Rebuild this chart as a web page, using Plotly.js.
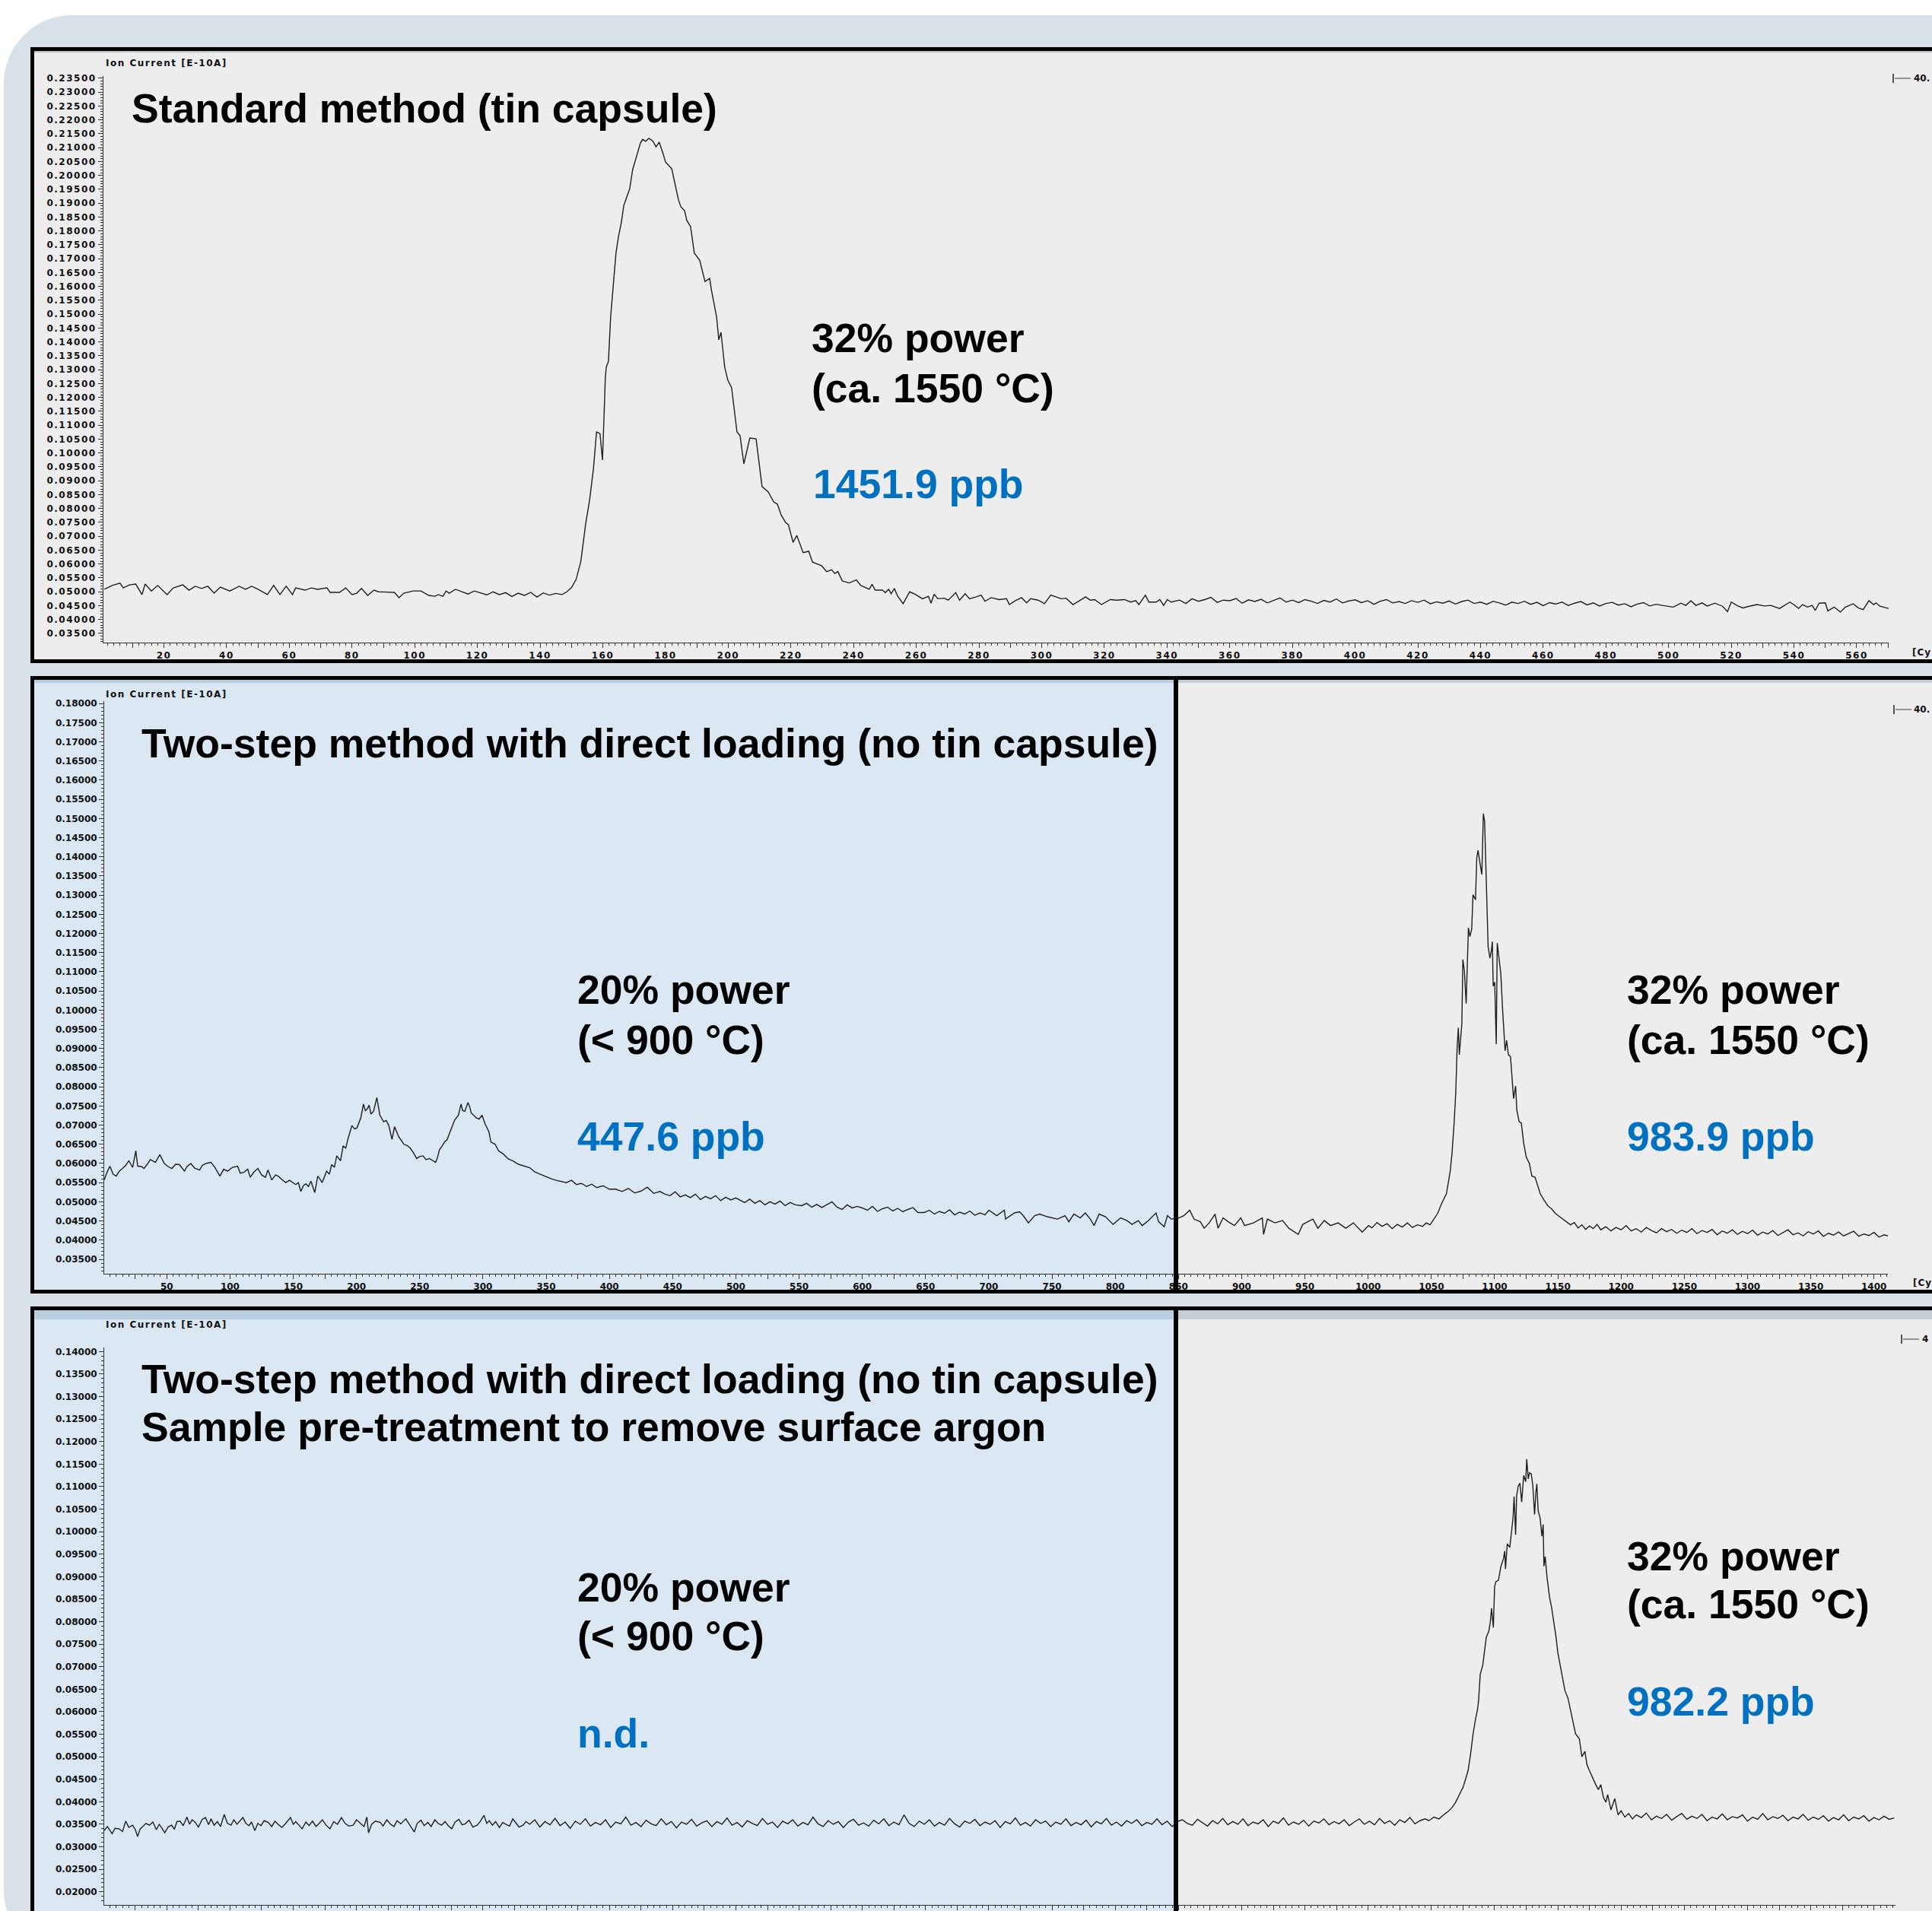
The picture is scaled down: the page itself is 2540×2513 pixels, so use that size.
<!DOCTYPE html>
<html>
<head>
<meta charset="utf-8">
<script src="https://cdn.plot.ly/plotly-3.0.1.min.js"></script>
<style>
html,body{margin:0;padding:0;background:#ffffff;overflow:hidden;}
#chart{width:2540px;height:2513px;}
.xtick text,.ytick text{letter-spacing:1.5px;}
text[data-unformatted^="Ion"]{letter-spacing:1.5px;}
text[data-unformatted^="[Cy"]{letter-spacing:1px;}
</style>
</head>
<body>
<div id="chart"></div>
<script>
// ---------------- DATA (cycle, ion current [E-10A]) ----------------
const standardMethod = [
[1,0.0509],[3.5,0.0523],[6,0.0531],[7,0.0514],[9,0.0525],[11,0.0528],[13,0.0490],[14,0.0528],[16,0.0503],[18,0.0523],
[21,0.0490],[23,0.0514],[26,0.0525],[28,0.0506],[30,0.0520],[32,0.0512],[34,0.0520],[36,0.0495],[38,0.0517],[41,0.0503],
[44,0.0520],[46,0.0509],[48,0.0520],[50,0.0509],[53,0.0490],[55,0.0523],[57,0.0490],[59,0.0520],[61,0.0490],[62,0.0514],
[65,0.0506],[67,0.0514],[69,0.0509],[72,0.0514],[73,0.0498],[76,0.0498],[78,0.0514],[80,0.0490],[81.5,0.0495],[83,0.0512],
[85,0.0487],[87,0.0506],[88.5,0.0500],[91,0.0500],[93.5,0.0498],[95,0.0479],[96.5,0.0495],[99.5,0.0503],[102,0.0503],[104.5,0.0487],
[106.5,0.0484],[107.5,0.0490],[109,0.0484],[110,0.0503],[111,0.0495],[113,0.0509],[115,0.0500],[117,0.0492],[119,0.0503],[121,0.0496],
[123,0.0489],[125,0.0500],[127,0.0490],[129,0.0497],[131,0.0483],[133,0.0495],[135,0.0487],[137,0.0498],[139,0.0481],[141,0.0496],
[143,0.0488],[145,0.0494],[147,0.0490],[148.5,0.0500],[150,0.0515],[151.5,0.0545],[153,0.0610],[154.5,0.0742],[155.8,0.0832],[157,0.0942],
[158,0.1076],[159.1,0.1070],[159.9,0.0975],[160.4,0.1134],[160.8,0.1270],[161.1,0.1309],[161.8,0.1330],[162.5,0.1490],[163.5,0.1618],[164.2,0.1720],
[165,0.1780],[165.9,0.1830],[166.7,0.1892],[168.6,0.1953],[169.5,0.2020],[170.8,0.2070],[172,0.2117],[172.7,0.2130],[173.7,0.2123],[174.7,0.2134],
[175.9,0.2125],[177,0.2103],[178,0.2120],[179.3,0.2076],[180,0.2049],[182,0.2024],[182.9,0.1975],[184.1,0.1914],[184.9,0.1887],[186.1,0.1873],
[186.8,0.1838],[188,0.1816],[189.2,0.1720],[190.9,0.1695],[192.6,0.1618],[194.1,0.1629],[194.6,0.1591],[196.3,0.1490],[197,0.1408],[197.7,0.1435],
[198.9,0.1309],[199.9,0.1262],[201.1,0.1235],[202.8,0.1076],[203.8,0.1062],[205,0.0961],[206.9,0.1054],[208.9,0.1051],[210.8,0.0879],[212.8,0.0860],
[214.5,0.0824],[215.7,0.0816],[216.9,0.0777],[218.3,0.0750],[219.2,0.0742],[220.7,0.0678],[221.9,0.0703],[223.9,0.0641],[225.7,0.0646],[226.9,0.0607],
[229.8,0.0594],[231.4,0.0573],[233,0.0579],[234,0.0566],[235,0.0573],[236.4,0.0539],[238.6,0.0532],[240.9,0.0543],[242.3,0.0523],[245,0.0509],
[245.9,0.0527],[246.9,0.0506],[249.2,0.0506],[250.1,0.0497],[251.2,0.0509],[252,0.0493],[253,0.0512],[254,0.0486],[255.8,0.0457],[257.9,0.0500],
[259.7,0.0491],[262,0.0475],[263.9,0.0484],[264.7,0.0459],[265.7,0.0491],[266.9,0.0475],[268.9,0.0477],[270.2,0.0470],[272.6,0.0497],[273.8,0.0470],
[275.6,0.0493],[277,0.0475],[279.1,0.0482],[280.7,0.0488],[281.9,0.0466],[283.9,0.0479],[286.4,0.0472],[288.8,0.0475],[289.7,0.0454],[291.6,0.0468],
[293.6,0.0479],[295.2,0.0460],[296.5,0.0475],[298.9,0.0470],[300.9,0.0457],[302.9,0.0488],[304.6,0.0482],[306.2,0.0475],[307.8,0.0477],[310,0.0454],
[312.1,0.0468],[314,0.0482],[315.5,0.0470],[316.9,0.0472],[319.1,0.0454],[321.9,0.0472],[323.9,0.0470],[326.4,0.0472],[328.4,0.0463],[330,0.0468],
[331,0.0454],[333.1,0.0488],[334.2,0.0463],[336.5,0.0463],[337.7,0.0472],[338.9,0.0451],[340.1,0.0472],[341.3,0.0463],[344,0.0470],[346,0.0458],
[348,0.0475],[350,0.0466],[352,0.0472],[354,0.0480],[356,0.0462],[358,0.0470],[360,0.0468],[362,0.0476],[364,0.0459],[366,0.0471],
[368,0.0465],[370,0.0473],[372,0.0460],[374,0.0468],[376,0.0478],[378,0.0463],[380,0.0470],[382,0.0461],[384,0.0472],[386,0.0466],
[388,0.0458],[390,0.0469],[392,0.0463],[394,0.0474],[396,0.0460],[398,0.0467],[400,0.0471],[402,0.0461],[404,0.0468],[406,0.0455],
[408,0.0466],[410,0.0472],[412,0.0460],[414,0.0465],[416,0.0458],[418,0.0468],[420,0.0462],[422,0.0470],[424,0.0457],[426,0.0464],
[428,0.0459],[430,0.0467],[432,0.0456],[434,0.0465],[436,0.0470],[438,0.0458],[440,0.0463],[442,0.0455],[444,0.0466],[446,0.0460],
[448,0.0452],[450,0.0463],[452,0.0458],[454,0.0466],[456,0.0455],[458,0.0462],[460,0.0450],[462,0.0461],[464,0.0456],[466,0.0463],
[468,0.0451],[470,0.0459],[472,0.0465],[474,0.0453],[476,0.0460],[478,0.0449],[480,0.0458],[482,0.0462],[484,0.0452],[486,0.0457],
[488,0.0446],[490,0.0456],[492,0.0461],[494,0.0449],[496,0.0455],[498,0.0451],[501.5,0.0445],[503.9,0.0459],[505.5,0.0451],[507.1,0.0468],
[508.7,0.0451],[510.7,0.0460],[512.3,0.0449],[514.8,0.0459],[517.2,0.0448],[518.8,0.0429],[520,0.0463],[522.1,0.0449],[523.7,0.0442],[525.7,0.0448],
[528.2,0.0454],[530.6,0.0449],[532.6,0.0451],[535.4,0.0440],[537.5,0.0454],[538.7,0.0463],[539.9,0.0454],[541.5,0.0440],[542.7,0.0454],[544.3,0.0445],
[545.8,0.0451],[546.8,0.0433],[548,0.0459],[550,0.0460],[550.8,0.0431],[552.8,0.0445],[554.8,0.0427],[556.4,0.0445],[558.9,0.0457],[560.5,0.0442],
[562.1,0.0436],[563.9,0.0468],[565.4,0.0454],[566.2,0.0460],[567.4,0.0448],[570.2,0.0440]
];

const twoStepDirect = [
[0.5,0.0557],[2.5,0.0575],[5,0.0593],[7.5,0.0572],[10,0.0567],[12.5,0.0580],[15,0.0587],[17.5,0.0595],[20,0.0607],[23,0.0590],
[25.5,0.0633],[27,0.0593],[30,0.0592],[32,0.0587],[35,0.0600],[37,0.0610],[41,0.0603],[44.5,0.0623],[48,0.0600],[51,0.0592],
[54,0.0587],[57,0.0598],[60,0.0597],[64,0.0580],[66,0.0592],[69,0.0600],[72,0.0588],[76,0.0583],[78,0.0595],[81,0.0600],
[85,0.0603],[88,0.0590],[92,0.0567],[95,0.0585],[98,0.0580],[102,0.0590],[106,0.0593],[108,0.0575],[111,0.0577],[114,0.0585],
[116,0.0564],[119,0.0578],[122,0.0587],[125,0.0570],[128,0.0564],[130,0.0583],[133,0.0557],[136,0.0570],[138,0.0567],[141,0.0558],
[144,0.0550],[147,0.0556],[150,0.0550],[152,0.0545],[154,0.0550],[156,0.0527],[158,0.0542],[160,0.0547],[162,0.0540],[164,0.0554],
[167,0.0524],[169.4,0.0567],[171,0.0560],[172.8,0.0550],[175,0.0568],[176.4,0.0580],[178.5,0.0572],[180.4,0.0597],[182.5,0.0590],[184.4,0.0620],
[187.4,0.0607],[189.4,0.0646],[191.5,0.0640],[193.4,0.0666],[196.4,0.0699],[198.5,0.0690],[200.4,0.0693],[203.4,0.0719],[205.5,0.0755],[207,0.0738],
[208.5,0.0742],[210,0.0752],[211.5,0.0729],[213.5,0.0736],[216.1,0.0772],[217.3,0.0745],[218.5,0.0726],[221.5,0.0709],[223.5,0.0712],[225.5,0.0699],
[228.1,0.0663],[230.1,0.0696],[232,0.0680],[233.5,0.0669],[235.5,0.0660],[237.5,0.0650],[240,0.0647],[242.5,0.0640],[245,0.0628],[247.6,0.0613],
[250,0.0618],[252.6,0.0620],[255,0.0610],[257.6,0.0613],[260,0.0608],[262.6,0.0603],[264,0.0615],[265.6,0.0636],[267.6,0.0645],[269.6,0.0656],
[271.6,0.0662],[273.6,0.0679],[275.6,0.0695],[277.6,0.0713],[280.6,0.0726],[282.7,0.0755],[284,0.0738],[285.7,0.0736],[288.1,0.0759],[289.5,0.0748],
[290.7,0.0732],[292.7,0.0725],[294.7,0.0719],[297,0.0716],[299.3,0.0726],[301.7,0.0703],[304.7,0.0683],[306.3,0.0656],[309.7,0.0650],[312.3,0.0633],
[316,0.0625],[320,0.0612],[324,0.0606],[328,0.0598],[332,0.0594],[337,0.0589],[341,0.0578],[345,0.0572],[350,0.0566],[354,0.0560],
[358,0.0556],[362,0.0553],[366,0.0550],[370,0.0556],[374,0.0545],[378,0.0548],[382,0.0540],[386,0.0546],[390,0.0537],[395,0.0542],
[400,0.0533],[405,0.0533],[410,0.0527],[415,0.0535],[420,0.0523],[425,0.0528],[430,0.0538],[435,0.0522],[440,0.0527],[444,0.0520],
[448,0.0516],[452,0.0526],[456,0.0513],[460,0.0518],[464,0.0511],[468,0.0520],[472,0.0506],[476,0.0514],[480,0.0508],[484,0.0516],
[488,0.0503],[492,0.0512],[496,0.0505],[500,0.0510],[503,0.0505],[507,0.0498],[511,0.0507],[515,0.0496],[519,0.0503],[523,0.0492],
[527,0.0500],[531,0.0494],[535,0.0502],[539,0.0490],[543,0.0498],[547,0.0492],[552,0.0490],[556,0.0496],[560,0.0486],[564,0.0493],
[568,0.0485],[572,0.0492],[576,0.0500],[580,0.0486],[584,0.0480],[588,0.0492],[592,0.0484],[596,0.0488],[600,0.0484],[604,0.0478],
[608,0.0488],[612,0.0475],[616,0.0482],[620,0.0486],[624,0.0476],[628,0.0483],[632,0.0474],[636,0.0480],[640,0.0485],[644,0.0472],
[649,0.0472],[653,0.0478],[657,0.0468],[661,0.0475],[665,0.0470],[669,0.0479],[673,0.0466],[677,0.0473],[681,0.0468],[685,0.0476],
[689,0.0465],[693,0.0471],[697,0.0466],[700.2,0.0478],[706.3,0.0464],[712.3,0.0478],[713.3,0.0455],[720.3,0.0471],[724.3,0.0474],[727.3,0.0464],
[731.3,0.0445],[736.3,0.0464],[740.3,0.0468],[746.3,0.0461],[754.3,0.0455],[760.3,0.0464],[763.3,0.0448],[767.3,0.0468],[772.3,0.0458],[776.3,0.0471],
[780.3,0.0455],[783.3,0.0438],[787.3,0.0468],[792.3,0.0461],[798.3,0.0441],[804.3,0.0458],[809.3,0.0451],[813.3,0.0441],[818.3,0.0451],[821.3,0.0438],
[826.3,0.0451],[832.3,0.0471],[834.3,0.0448],[838.7,0.0435],[841.3,0.0464],[844.3,0.0455],[850.3,0.0458],[854.3,0.0464],[858.9,0.0478],[862.3,0.0455],
[867.3,0.0448],[870.3,0.0431],[874.3,0.0445],[878.9,0.0468],[881.3,0.0431],[885.3,0.0458],[889.3,0.0448],[894.3,0.0438],[899.3,0.0458],[902.3,0.0438],
[909.3,0.0445],[916.3,0.0458],[917.3,0.0415],[920.3,0.0455],[926.3,0.0445],[932.3,0.0451],[937.3,0.0431],[944.7,0.0415],[948.3,0.0441],[956.3,0.0455],
[960.3,0.0431],[965.3,0.0451],[970.3,0.0438],[976.3,0.0445],[982.3,0.0431],[988.3,0.0445],[995.3,0.0421],[1000.3,0.0438],[1003,0.0432],[1007,0.0446],
[1011,0.0436],[1015,0.0443],[1019,0.0430],[1023,0.0441],[1027,0.0434],[1031,0.0445],[1035,0.0433],[1039,0.0440],[1043,0.0436],[1046,0.0445],
[1049,0.0440],[1052,0.0455],[1055,0.0470],[1058,0.0495],[1060,0.0510],[1061.9,0.0521],[1064.9,0.0580],[1066.3,0.0626],[1068,0.0706],[1069.3,0.0785],
[1070.3,0.0898],[1071.3,0.0954],[1072.1,0.0884],[1073.3,0.0924],[1074.1,0.0964],[1074.9,0.1132],[1076.1,0.1103],[1077.5,0.1017],[1078.5,0.1130],[1079.3,0.1215],
[1080.5,0.1192],[1081.9,0.1212],[1082.9,0.1301],[1084.9,0.1288],[1085.9,0.1398],[1086.9,0.1417],[1088.6,0.1380],[1089.9,0.1354],[1090.5,0.1433],[1091.1,0.1513],
[1092.1,0.1493],[1092.9,0.1394],[1093.9,0.1251],[1094.9,0.1165],[1096.3,0.1136],[1097.5,0.1156],[1098.2,0.1179],[1098.9,0.1063],[1100.1,0.1073],[1101.3,0.0911],
[1102.1,0.1175],[1103.3,0.1142],[1104.9,0.1096],[1106.3,0.1003],[1107.3,0.0944],[1108.3,0.0894],[1109.5,0.0921],[1110.9,0.0884],[1112.6,0.0878],[1114,0.0805],
[1115,0.0769],[1116.6,0.0802],[1117.6,0.0739],[1119.4,0.0709],[1121.1,0.0706],[1123,0.0653],[1125.1,0.0616],[1127.5,0.0600],[1129.5,0.0567],[1132,0.0564],
[1134.1,0.0541],[1136.1,0.0521],[1139,0.0505],[1142,0.0490],[1145,0.0482],[1148,0.0470],[1151,0.0462],[1154,0.0455],[1157,0.0448],[1160,0.0440],
[1163,0.0446],[1166,0.0432],[1169,0.0440],[1172,0.0428],[1175,0.0437],[1178,0.0430],[1181,0.0441],[1184,0.0427],[1188,0.0435],[1192,0.0424],
[1196,0.0433],[1200,0.0427],[1204,0.0438],[1208,0.0424],[1212,0.0430],[1216,0.0421],[1220,0.0433],[1224,0.0425],[1228,0.0419],[1232,0.0430],
[1236,0.0422],[1240,0.0428],[1244,0.0418],[1248,0.0426],[1252,0.0420],[1256,0.0430],[1260,0.0417],[1264,0.0425],[1268,0.0420],[1272,0.0428],
[1276,0.0414],[1280,0.0424],[1284,0.0418],[1288,0.0427],[1292,0.0415],[1296,0.0423],[1300,0.0417],[1304,0.0426],[1308,0.0413],[1312,0.0421],
[1316,0.0416],[1320,0.0425],[1324,0.0412],[1328,0.0420],[1332,0.0427],[1336,0.0414],[1340,0.0419],[1344,0.0411],[1348,0.0422],[1352,0.0416],
[1356,0.0424],[1360,0.0410],[1364,0.0418],[1368,0.0413],[1372,0.0421],[1376,0.0411],[1380,0.0417],[1384,0.0423],[1388,0.0410],[1392,0.0416],
[1396,0.0412],[1400,0.0420],[1404,0.0408],[1408,0.0414],[1411,0.0411]
];

const twoStepPretreated = [
[0.5,0.0336],[3,0.0345],[6.8,0.0329],[9,0.0341],[12.2,0.0340],[15,0.0334],[17.5,0.0357],[20,0.0343],[22.9,0.0348],[25,0.0339],
[26.9,0.0323],[29,0.0340],[31,0.0345],[33.5,0.0352],[36.3,0.0348],[39,0.0355],[41.7,0.0338],[44,0.0350],[46,0.0342],[48.4,0.0331],
[51,0.0344],[53.8,0.0348],[56,0.0339],[58,0.0356],[60.5,0.0357],[63,0.0347],[65.9,0.0366],[68,0.0350],[70,0.0360],[72.6,0.0354],
[75,0.0344],[78,0.0361],[80.6,0.0365],[83,0.0349],[85,0.0362],[87.4,0.0348],[90,0.0356],[92.5,0.0345],[95.4,0.0372],[98,0.0352],
[100.8,0.0348],[103,0.0360],[105.5,0.0350],[108,0.0358],[110.2,0.0365],[112.5,0.0352],[115,0.0347],[117,0.0355],[119.6,0.0336],[122,0.0352],
[124.5,0.0347],[127,0.0358],[130.3,0.0354],[133,0.0345],[135.5,0.0357],[138,0.0350],[141,0.0343],[144,0.0352],[147.8,0.0365],[150,0.0350],
[152,0.0356],[154.5,0.0348],[157,0.0340],[160,0.0355],[162.5,0.0347],[165.2,0.0357],[168,0.0345],[170.5,0.0352],[173,0.0360],[176,0.0348],
[179,0.0340],[182,0.0356],[185,0.0350],[188.1,0.0365],[191,0.0352],[194,0.0346],[197.4,0.0348],[200,0.0360],[203,0.0353],[206,0.0345],
[208.2,0.0366],[209.5,0.0331],[212,0.0350],[215,0.0357],[218.9,0.0354],[221,0.0346],[224,0.0360],[227,0.0350],[229.7,0.0345],[232,0.0358],
[235,0.0351],[239,0.0362],[242,0.0349],[245.7,0.0333],[248,0.0352],[251,0.0359],[253.5,0.0347],[256.5,0.0354],[259,0.0345],[262,0.0360],
[264.5,0.0352],[267.3,0.0348],[270,0.0356],[272.5,0.0347],[275.3,0.0340],[278,0.0355],[281,0.0361],[283.5,0.0349],[286,0.0351],[289,0.0359],
[292,0.0344],[295.4,0.0348],[298,0.0357],[300.8,0.0370],[303,0.0352],[305,0.0358],[307.5,0.0348],[310,0.0356],[313,0.0343],[315.6,0.0354],
[318,0.0350],[321,0.0346],[323.6,0.0362],[326,0.0353],[328.5,0.0344],[331.7,0.0348],[334,0.0356],[337,0.0350],[341,0.0360],[345,0.0344],
[349,0.0356],[353,0.0349],[357,0.0363],[361,0.0347],[365,0.0355],[369,0.0341],[373,0.0357],[377,0.0350],[381,0.0362],[385,0.0346],
[389,0.0354],[393,0.0349],[397,0.0360],[401,0.0343],[405,0.0355],[409,0.0351],[413,0.0366],[417,0.0348],[421,0.0354],[425,0.0345],
[429,0.0359],[433,0.0351],[437,0.0347],[441,0.0362],[445,0.0349],[449,0.0356],[453,0.0342],[457,0.0355],[461,0.0350],[465,0.0361],
[469,0.0346],[473,0.0353],[477,0.0358],[481,0.0345],[485,0.0356],[489,0.0350],[493,0.0364],[497,0.0348],[501,0.0354],[505,0.0344],
[509,0.0358],[513,0.0352],[517,0.0347],[521,0.0363],[525,0.0350],[529,0.0355],[533,0.0343],[537,0.0357],[541,0.0351],[545,0.0360],
[549,0.0346],[553,0.0354],[557,0.0349],[561,0.0366],[565,0.0351],[569,0.0345],[573,0.0358],[577,0.0350],[581,0.0356],[585,0.0343],
[589,0.0355],[593,0.0361],[597,0.0348],[601,0.0353],[605,0.0346],[609,0.0359],[613,0.0351],[617,0.0362],[621,0.0347],[625,0.0355],
[629,0.0349],[633,0.0371],[637,0.0352],[641,0.0345],[645,0.0357],[649,0.0350],[653,0.0360],[657,0.0346],[661,0.0354],[665,0.0348],
[669,0.0363],[673,0.0351],[677,0.0344],[681,0.0357],[685,0.0352],[689,0.0361],[693,0.0347],[697,0.0355],[701,0.0350],[705,0.0358],
[709,0.0343],[713,0.0356],[717,0.0351],[721,0.0364],[725,0.0348],[729,0.0354],[733,0.0346],[737,0.0360],[741,0.0352],[745,0.0357],
[749,0.0345],[753,0.0355],[757,0.0350],[761,0.0362],[765,0.0347],[769,0.0354],[773,0.0349],[777,0.0359],[781,0.0344],[785,0.0356],
[789,0.0351],[793,0.0363],[797,0.0348],[801,0.0355],[805,0.0346],[809,0.0358],[813,0.0352],[817,0.0360],[821,0.0347],[825,0.0354],
[829,0.0350],[833,0.0362],[837,0.0349],[841,0.0357],[845,0.0345],[849,0.0356],[853,0.0360],[857,0.0352],[861,0.0348],[865,0.0361],
[869,0.0354],[873,0.0346],[877,0.0358],[881,0.0351],[885,0.0363],[889,0.0349],[893,0.0356],[897,0.0350],[901,0.0362],[905,0.0347],
[909,0.0355],[913,0.0351],[917,0.0360],[921,0.0345],[925,0.0357],[929,0.0352],[933,0.0364],[937,0.0348],[941,0.0355],[945,0.0350],
[949,0.0359],[953,0.0346],[957,0.0357],[961,0.0353],[965,0.0362],[969,0.0349],[973,0.0356],[977,0.0351],[981,0.0360],[985,0.0347],
[989,0.0355],[993,0.0362],[997,0.0350],[1001,0.0357],[1005,0.0349],[1009,0.0363],[1013,0.0352],[1017,0.0358],[1021,0.0348],[1025,0.0360],
[1029,0.0354],[1033,0.0365],[1037,0.0351],[1041,0.0358],[1045,0.0362],[1048,0.0358],[1052,0.0366],[1056,0.0362],[1060,0.0372],[1063,0.0378],
[1066,0.0386],[1069,0.0398],[1072,0.0415],[1075,0.0432],[1077,0.0450],[1079,0.0469],[1081,0.0506],[1083,0.0551],[1085,0.0585],[1086.6,0.0607],
[1087.4,0.0627],[1088.6,0.0683],[1090.6,0.0703],[1092,0.0737],[1093.4,0.0765],[1095.4,0.0779],[1096.6,0.0799],[1097.6,0.0830],[1099,0.0787],[1100,0.0878],
[1101,0.0889],[1103,0.0892],[1105,0.0923],[1107,0.0940],[1108,0.0957],[1108.6,0.0917],[1110,0.0973],[1112,0.0965],[1113.4,0.1002],[1114.6,0.1032],
[1115.4,0.1078],[1116.6,0.0993],[1117.4,0.1080],[1118.6,0.1100],[1120,0.1108],[1121.4,0.1066],[1123,0.1125],[1124.6,0.1111],[1125.4,0.1161],[1126.6,0.1117],
[1127.6,0.1131],[1129,0.1128],[1130.2,0.1103],[1131.6,0.1038],[1132.6,0.1086],[1133.4,0.1106],[1134.4,0.1047],[1136,0.1030],[1137.4,0.0990],[1138.4,0.1016],
[1139,0.0923],[1140,0.0945],[1141.4,0.0900],[1143.4,0.0855],[1145,0.0833],[1147,0.0799],[1148.6,0.0765],[1150,0.0731],[1152,0.0703],[1153.4,0.0683],
[1155.6,0.0647],[1158,0.0630],[1160,0.0605],[1162,0.0579],[1164,0.0551],[1167,0.0540],[1169,0.0500],[1171.4,0.0512],[1173,0.0483],[1175,0.0469],
[1178,0.0449],[1180,0.0438],[1182,0.0427],[1184,0.0438],[1186,0.0410],[1188,0.0399],[1189.4,0.0416],[1192,0.0382],[1195,0.0407],[1197.6,0.0371],
[1200,0.0380],[1203,0.0366],[1206,0.0374],[1209,0.0362],[1212,0.0371],[1216,0.0365],[1220,0.0375],[1224,0.0360],[1228,0.0368],[1232,0.0363],
[1236,0.0372],[1240,0.0359],[1244,0.0367],[1248,0.0374],[1252,0.0361],[1256,0.0368],[1260,0.0363],[1264,0.0372],[1268,0.0358],[1272,0.0366],
[1276,0.0362],[1280,0.0373],[1284,0.0360],[1288,0.0367],[1292,0.0364],[1296,0.0371],[1300,0.0357],[1304,0.0366],[1308,0.0361],[1312,0.0374],
[1316,0.0360],[1320,0.0367],[1324,0.0363],[1328,0.0370],[1332,0.0358],[1336,0.0366],[1340,0.0362],[1344,0.0372],[1348,0.0359],[1352,0.0366],
[1356,0.0361],[1360,0.0369],[1364,0.0357],[1368,0.0365],[1372,0.0360],[1376,0.0371],[1380,0.0358],[1384,0.0366],[1388,0.0362],[1392,0.0369],
[1396,0.0357],[1400,0.0365],[1404,0.0360],[1408,0.0368],[1412,0.0361],[1416,0.0364]
];

// step boundary (cycle) between 20% and 32% power
const powerStepCycle = 848;

// text content
const panel1Labels = ["Standard method (tin capsule)", "32% power", "(ca. 1550 °C)", "1451.9 ppb"];
const panel2Labels = ["Two-step method with direct loading (no tin capsule)", "20% power", "(&lt; 900 °C)", "447.6 ppb", "32% power", "(ca. 1550 °C)", "983.9 ppb"];
const panel3Labels = ["Two-step method with direct loading (no tin capsule)", "Sample pre-treatment to remove surface argon", "20% power", "(&lt; 900 °C)", "n.d.", "32% power", "(ca. 1550 °C)", "982.2 ppb"];
const yUnitLabel = "Ion Current [E-10A]";
const xUnitLabel = "[Cy";     // visible part of the cut-off axis unit
const legendLabel = "40.";    // visible part of the cut-off legend entry

// ---------------- LAYOUT ----------------
const W = 2540, H = 2513;
const X = p => p / W;
const Y = p => 1 - p / H;

const P1 = {l:136, r:2483, t:100, b:845, xr:[0.7, 570.2], yr:[0.03171, 0.23582]};
const P2 = {l:137, r:2482, t:922, b:1675, xr:[0.5, 1411], yr:[0.03123, 0.18063]};
const P3 = {l:137, r:2492, t:1772, b:2505, xr:[0.5, 1417], yr:[0.01709, 0.14091]};

const TICKFONT = {family:'DejaVu Sans, Verdana, sans-serif', size:12, weight:'bold', color:'#111'};
const AXC = '#333';
const BLACK = '#000000', BLUE = '#0070c0';
const BG_OUT = '#d9e1e8', GRAY = '#ededed', LBLUE = '#dbe8f4';

function xAxis(P, anchor, major, labelEvery, minor, showLabels) {
  const alias = {};
  for (let v = major; v <= P.xr[1]; v += major) {
    if (Math.round(v) % labelEvery !== 0) alias[String(v)] = ' ';
  }
  return {domain:[X(P.l), X(P.r)], range:P.xr, anchor:anchor, showline:true, linecolor:AXC, linewidth:1,
    ticks:'outside', ticklen:6, tickwidth:1, tickcolor:AXC, tickmode:'linear', tick0:0, dtick:major,
    labelalias:alias, showticklabels:showLabels, showgrid:false, zeroline:false, tickfont:TICKFONT, fixedrange:true,
    minor:{tickmode:'linear', tick0:0, dtick:minor, ticks:'outside', ticklen:3, tickwidth:1, tickcolor:AXC, showgrid:false}};
}
function yAxis(P, anchor) {
  return {domain:[Y(P.b), Y(P.t)], range:P.yr, anchor:anchor, showline:true, linecolor:AXC, linewidth:1,
    ticks:'outside', ticklen:6, tickwidth:1, tickcolor:AXC, tickmode:'linear', tick0:0, dtick:0.005,
    tickformat:'.5f', showgrid:false, zeroline:false, tickfont:TICKFONT, fixedrange:true,
    minor:{tickmode:'linear', tick0:0, dtick:0.001, ticks:'outside', ticklen:3, tickwidth:1, tickcolor:AXC, showgrid:false}};
}
function dataToPx(P, v) { return P.l + (v - P.xr[0]) / (P.xr[1] - P.xr[0]) * (P.r - P.l); }

const LINE = {color:'#1e1e1e', width:1.4};
const traces = [
  {type:'scatter', mode:'lines', x:standardMethod.map(d=>d[0]), y:standardMethod.map(d=>d[1]), xaxis:'x', yaxis:'y', line:LINE, hoverinfo:'skip'},
  {type:'scatter', mode:'lines', x:twoStepDirect.map(d=>d[0]), y:twoStepDirect.map(d=>d[1]), xaxis:'x2', yaxis:'y2', line:LINE, hoverinfo:'skip'},
  {type:'scatter', mode:'lines', x:twoStepPretreated.map(d=>d[0]), y:twoStepPretreated.map(d=>d[1]), xaxis:'x3', yaxis:'y3', line:LINE, hoverinfo:'skip'}
];

// ---------------- SHAPES ----------------
const shapes = [];
function rect(x0, y0, x1, y1, fill, layer) {
  shapes.push({type:'rect', xref:'paper', yref:'paper', x0:X(x0), x1:X(x1), y0:Y(y1), y1:Y(y0),
    fillcolor:fill, line:{width:0}, layer:layer || 'below'});
}
function border(x0, y0, x1, y1) {
  shapes.push({type:'rect', xref:'paper', yref:'paper', x0:X(x0), x1:X(x1), y0:Y(y1), y1:Y(y0),
    fillcolor:'rgba(0,0,0,0)', line:{color:BLACK, width:5}, layer:'above'});
}
function seg(x0, y0, x1, y1, color, width) {
  shapes.push({type:'line', xref:'paper', yref:'paper', x0:X(x0), x1:X(x1), y0:Y(y0), y1:Y(y1),
    line:{color:color, width:width}, layer:'above'});
}
// outer rounded panel
(function(){
  const L = 5, T = 20, R = 2700, B = 2576, r = 90, k = 0.5523 * r;
  const p = (x, y) => X(x) + ',' + Y(y);
  const path = 'M' + p(L, T + r) + ' C' + p(L, T + r - k) + ' ' + p(L + r - k, T) + ' ' + p(L + r, T) +
    ' L' + p(R, T) + ' L' + p(R, B) + ' L' + p(L + r, B) +
    ' C' + p(L + r - k, B) + ' ' + p(L, B - r + k) + ' ' + p(L, B - r) + ' Z';
  shapes.push({type:'path', xref:'paper', yref:'paper', path:path, fillcolor:BG_OUT, line:{width:0}, layer:'below'});
})();

const divPx = dataToPx(P2, powerStepCycle);

// panel 1 frame
rect(40, 62, 2700, 872, GRAY);
rect(45, 65, 2700, 69, '#b9c1c9');
border(42.5, 64.5, 2700, 869.5);
// panel 2 frame
rect(40, 889, 2700, 1701, GRAY);
rect(45, 891, divPx, 1698, LBLUE);
rect(45, 893, divPx, 898, '#b8cfe1');
rect(divPx, 893, 2700, 898, '#c6cdd5');
border(42.5, 891.5, 2700, 1698.5);
seg(divPx, 889, divPx, 1701, BLACK, 6);
// panel 3 frame
rect(40, 1718, 2700, 2700, GRAY);
rect(45, 1720, divPx, 2700, LBLUE);
rect(45, 1723, divPx, 1735, '#b8cfe1');
rect(divPx, 1723, 2700, 1735, '#c6cdd5');
border(42.5, 1720.5, 2700, 2700);
seg(divPx, 1718, divPx, 2700, BLACK, 6);

// legend stubs (cut off at right edge)
const legendPos = [[2489, 103], [2490, 933], [2500, 1761]];
legendPos.forEach(([lx, ly]) => {
  seg(lx, ly - 6, lx, ly + 6, '#555', 2);
  seg(lx + 2, ly, lx + 23, ly, '#777', 1.5);
});

// ---------------- ANNOTATIONS ----------------
const annotations = [];
function txt(text, x, y, color, size, family, anchor) {
  annotations.push({xref:'paper', yref:'paper', x:X(x), y:Y(y), xanchor:anchor || 'left', yanchor:'middle',
    showarrow:false, text:text, borderpad:0,
    font:{family:family || 'Liberation Sans, Arial, sans-serif', size:size || 53.5, color:color || BLACK, weight:'bold'}});
}
// panel 1
txt(panel1Labels[0], 172, 142);
txt(panel1Labels[1], 1066, 445);
txt(panel1Labels[2], 1066, 510);
txt(panel1Labels[3], 1068, 637, BLUE);
// panel 2
txt(panel2Labels[0], 185, 977);
txt(panel2Labels[1], 758, 1302);
txt(panel2Labels[2], 758, 1367);
txt(panel2Labels[3], 758, 1494, BLUE);
txt(panel2Labels[4], 2138, 1302);
txt(panel2Labels[5], 2138, 1367);
txt(panel2Labels[6], 2138, 1494, BLUE);
// panel 3
txt(panel3Labels[0], 185, 1813);
txt(panel3Labels[1], 185, 1876);
txt(panel3Labels[2], 758, 2087);
txt(panel3Labels[3], 758, 2151);
txt(panel3Labels[4], 758, 2279, BLUE);
txt(panel3Labels[5], 2138, 2046);
txt(panel3Labels[6], 2138, 2109);
txt(panel3Labels[7], 2138, 2237, BLUE);
// small labels
const SMALL = 'DejaVu Sans, Verdana, sans-serif';
[[83], [913], [1742]].forEach(([yy]) => txt(yUnitLabel, 138, yy, '#111', 12, SMALL));
txt(xUnitLabel, 2513, 858, '#111', 12, SMALL);
txt(xUnitLabel, 2514, 1687, '#111', 12, SMALL);
txt(legendLabel, 2489 + 26, 103, '#111', 12, SMALL);
txt(legendLabel, 2490 + 25, 933, '#111', 12, SMALL);
txt("4", 2500 + 26, 1761, '#111', 12, SMALL);

const layout = {
  width:W, height:H, margin:{l:0, r:0, t:0, b:0, pad:0},
  paper_bgcolor:'#ffffff', plot_bgcolor:'rgba(0,0,0,0)', showlegend:false,
  font:{family:'Liberation Sans, Arial, sans-serif'},
  xaxis: xAxis(P1, 'y', 10, 20, 2, true),
  yaxis: yAxis(P1, 'x'),
  xaxis2: xAxis(P2, 'y2', 25, 50, 5, true),
  yaxis2: yAxis(P2, 'x2'),
  xaxis3: xAxis(P3, 'y3', 25, 50, 5, false),
  yaxis3: yAxis(P3, 'x3'),
  shapes: shapes,
  annotations: annotations
};

Plotly.newPlot('chart', traces, layout, {staticPlot:true, displayModeBar:false});
</script>
</body>
</html>
